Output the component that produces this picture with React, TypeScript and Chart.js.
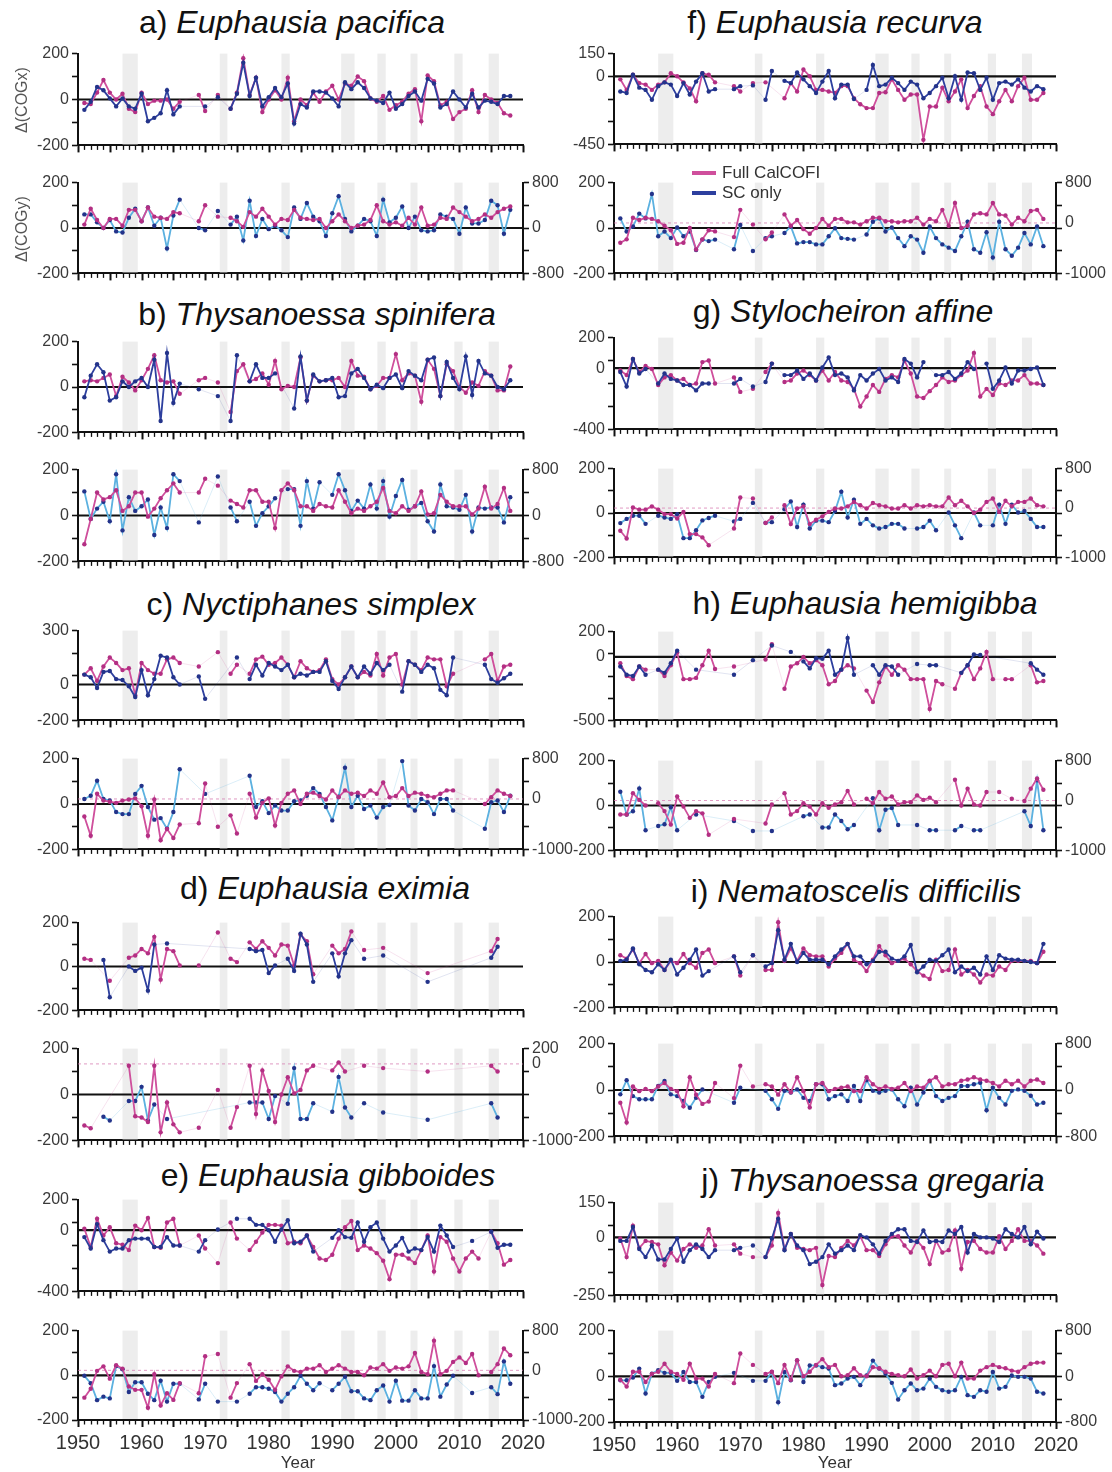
import React, { useEffect, useRef } from "react";
import { Chart, registerables } from "chart.js";
Chart.register(...registerables);

type P = [number, number][];

// ---------- data (year, value); COGy blue values are in right-axis units ----------
const aXM: P = [[1951,-15],[1952,-20],[1953,30],[1954,85],[1955,30],[1956,0],[1957,25],[1958,-40],[1959,-55],[1960,30],[1961,-20],[1962,-5],[1963,-5],[1964,0],[1965,-40],[1966,-10],[1969,20],[1970,-50],[1972,20],[1974,-40],[1975,30],[1976,180],[1977,20],[1978,95],[1979,-55],[1980,0],[1981,40],[1982,0],[1983,95],[1984,-95],[1985,0],[1986,-25],[1987,30],[1988,-10],[1989,35],[1990,60],[1991,0],[1992,70],[1993,60],[1994,100],[1995,80],[1996,5],[1997,-10],[1998,15],[1999,-45],[2000,-25],[2001,-10],[2002,25],[2003,45],[2004,-95],[2005,105],[2006,80],[2007,-25],[2008,-10],[2009,-85],[2010,-55],[2011,-40],[2012,40],[2013,-55],[2014,20],[2015,0],[2016,-15],[2017,-60],[2018,-70]];
const aXB: P = [[1951,-45],[1952,-10],[1953,55],[1954,40],[1955,5],[1956,-30],[1957,5],[1958,-30],[1959,-40],[1960,25],[1961,-95],[1962,-80],[1963,-60],[1964,40],[1965,-65],[1966,-30],[1970,-30],[1972,10],[1974,-40],[1975,25],[1976,160],[1977,15],[1978,95],[1979,-30],[1980,10],[1981,50],[1982,10],[1983,70],[1984,-105],[1985,-20],[1986,-35],[1987,35],[1988,35],[1989,30],[1990,5],[1991,-30],[1992,75],[1993,45],[1994,75],[1995,50],[1996,5],[1997,-5],[1998,-15],[1999,30],[2000,-40],[2001,-20],[2002,15],[2003,35],[2004,-5],[2005,90],[2006,70],[2007,-35],[2008,-20],[2009,35],[2010,0],[2011,-35],[2012,25],[2013,-35],[2014,-5],[2015,-10],[2016,-20],[2017,15],[2018,15]];
const aYM: P = [[1951,15],[1952,85],[1953,35],[1954,0],[1955,40],[1956,40],[1957,10],[1958,80],[1959,80],[1960,30],[1961,90],[1962,50],[1963,45],[1964,40],[1965,70],[1966,65],[1969,30],[1970,100],[1972,50],[1974,45],[1975,30],[1976,5],[1977,70],[1978,50],[1979,85],[1980,50],[1981,15],[1982,40],[1983,35],[1984,80],[1985,45],[1986,40],[1987,35],[1988,40],[1989,0],[1990,30],[1991,60],[1992,30],[1993,0],[1994,10],[1995,15],[1996,35],[1997,100],[1998,30],[1999,15],[2000,25],[2001,10],[2002,45],[2003,15],[2004,90],[2005,10],[2006,15],[2007,45],[2008,40],[2009,90],[2010,70],[2011,50],[2012,30],[2013,40],[2014,60],[2015,45],[2016,70],[2017,85],[2018,95]];
const aYB: P = [[1951,240],[1952,240],[1953,100],[1954,0],[1955,140],[1956,-60],[1957,-80],[1958,180],[1959,340],[1960,120],[1961,360],[1962,40],[1963,180],[1964,-360],[1965,220],[1966,500],[1969,0],[1970,-40],[1972,300],[1974,60],[1975,200],[1976,-220],[1977,480],[1978,-140],[1979,160],[1980,-20],[1981,40],[1982,-40],[1983,-160],[1984,360],[1985,160],[1986,440],[1987,200],[1988,120],[1989,-140],[1990,260],[1991,560],[1992,160],[1993,-60],[1994,40],[1995,160],[1996,120],[1997,-140],[1998,500],[1999,100],[2000,180],[2001,380],[2002,0],[2003,200],[2004,-40],[2005,-60],[2006,-40],[2007,240],[2008,200],[2009,160],[2010,-100],[2011,360],[2012,80],[2013,80],[2014,140],[2015,480],[2016,400],[2017,-100],[2018,320]];

const bXM: P = [[1951,25],[1952,30],[1953,25],[1954,40],[1955,55],[1956,-40],[1957,45],[1958,20],[1959,-15],[1960,30],[1961,80],[1962,140],[1963,30],[1964,20],[1965,25],[1966,-30],[1969,30],[1970,40],[1972,20],[1974,-110],[1975,70],[1976,100],[1977,25],[1978,35],[1979,60],[1980,10],[1981,115],[1982,-10],[1983,5],[1984,0],[1985,130],[1986,-60],[1987,50],[1988,25],[1989,30],[1990,30],[1991,40],[1992,0],[1993,115],[1994,50],[1995,45],[1996,-10],[1997,5],[1998,40],[1999,40],[2000,145],[2001,30],[2002,60],[2003,50],[2004,-65],[2005,120],[2006,80],[2007,-40],[2008,100],[2009,70],[2010,0],[2011,-25],[2012,20],[2013,5],[2014,70],[2015,50],[2016,-15],[2017,-15],[2018,90]];
const bXB: P = [[1951,-45],[1952,50],[1953,100],[1954,65],[1955,-60],[1956,-45],[1957,25],[1958,0],[1959,25],[1960,40],[1961,0],[1962,120],[1963,-150],[1964,150],[1965,-70],[1966,15],[1969,-10],[1972,-40],[1974,-150],[1975,140],[1977,25],[1978,100],[1979,40],[1980,40],[1981,60],[1984,-95],[1985,135],[1986,-60],[1987,55],[1988,25],[1989,30],[1990,40],[1991,-45],[1992,-40],[1993,60],[1994,80],[1995,40],[1996,-10],[1997,10],[1998,-5],[1999,40],[2000,55],[2001,-5],[2002,70],[2003,50],[2004,30],[2005,120],[2006,130],[2007,-40],[2008,110],[2009,40],[2010,-10],[2011,135],[2012,-35],[2013,115],[2014,60],[2015,50],[2016,0],[2017,-10],[2018,30]];
const bYM: P = [[1951,-125],[1952,-15],[1953,100],[1954,70],[1955,80],[1956,110],[1957,20],[1958,40],[1959,100],[1960,100],[1961,-5],[1962,30],[1963,75],[1964,110],[1965,140],[1966,100],[1969,100],[1970,160],[1972,130],[1974,65],[1975,50],[1976,35],[1977,110],[1978,110],[1979,60],[1980,60],[1981,-55],[1982,110],[1983,140],[1984,110],[1985,40],[1986,40],[1987,20],[1988,50],[1989,40],[1990,35],[1991,110],[1992,60],[1993,10],[1994,30],[1995,20],[1996,40],[1997,60],[1998,120],[1999,20],[2000,10],[2001,40],[2002,20],[2003,40],[2004,105],[2005,5],[2006,10],[2007,90],[2008,60],[2009,40],[2010,40],[2011,40],[2012,5],[2013,30],[2014,125],[2015,30],[2016,50],[2017,120],[2018,20]];
const bYB: P = [[1951,420],[1952,-60],[1953,120],[1954,240],[1955,-100],[1956,720],[1957,-260],[1958,320],[1959,80],[1960,160],[1961,280],[1962,-340],[1963,140],[1964,-220],[1965,720],[1966,600],[1969,-120],[1972,680],[1974,140],[1975,-100],[1977,240],[1978,-180],[1979,40],[1980,160],[1981,300],[1983,460],[1984,460],[1985,-180],[1986,600],[1987,120],[1988,580],[1990,360],[1991,720],[1992,440],[1993,80],[1994,260],[1995,120],[1996,540],[1997,120],[1998,600],[1999,-20],[2000,340],[2001,620],[2002,100],[2003,160],[2004,220],[2005,-100],[2006,-280],[2007,540],[2008,160],[2009,140],[2010,100],[2011,360],[2012,-280],[2013,140],[2014,120],[2015,140],[2016,140],[2017,-120],[2018,320]];

const cXM: P = [[1951,55],[1952,90],[1953,20],[1954,100],[1955,150],[1956,120],[1957,80],[1958,90],[1959,-60],[1960,120],[1961,80],[1962,60],[1963,60],[1964,140],[1965,150],[1966,120],[1969,100],[1972,180],[1974,60],[1975,110],[1977,60],[1978,140],[1979,155],[1980,110],[1981,120],[1982,150],[1983,110],[1984,40],[1985,130],[1986,90],[1987,70],[1988,80],[1989,140],[1990,30],[1991,0],[1992,40],[1993,100],[1994,40],[1995,70],[1996,50],[1997,170],[1998,50],[1999,150],[2000,170],[2001,0],[2002,130],[2003,110],[2004,80],[2005,150],[2006,140],[2007,140],[2008,-10],[2009,60],[2014,140],[2015,170],[2016,20],[2017,100],[2018,110]];
const cXB: P = [[1951,55],[1952,40],[1953,-20],[1954,70],[1955,75],[1956,30],[1957,25],[1958,-10],[1959,-70],[1960,80],[1961,-60],[1962,30],[1963,160],[1964,150],[1965,40],[1966,0],[1969,45],[1970,-80],[1975,150],[1977,30],[1978,110],[1979,50],[1980,120],[1981,100],[1982,80],[1983,110],[1984,40],[1985,60],[1986,50],[1987,70],[1988,70],[1989,130],[1990,20],[1991,-25],[1992,40],[1993,100],[1994,40],[1995,100],[1996,60],[1997,120],[1998,80],[1999,110],[2001,-40],[2002,130],[2003,110],[2004,70],[2005,110],[2006,90],[2007,-30],[2008,-60],[2009,150],[2014,110],[2015,30],[2016,10],[2017,35],[2018,60]];
const cYM: P = [[1951,-55],[1952,-140],[1953,45],[1954,15],[1955,10],[1956,5],[1957,15],[1958,20],[1959,25],[1960,-10],[1961,-140],[1962,20],[1963,-160],[1964,-110],[1965,-150],[1966,-90],[1969,-85],[1970,90],[1972,-100],[1974,-50],[1975,-130],[1977,45],[1978,-60],[1979,5],[1980,25],[1981,-95],[1982,5],[1983,45],[1984,60],[1985,0],[1986,45],[1987,50],[1988,35],[1989,20],[1990,60],[1991,30],[1992,60],[1993,45],[1994,50],[1995,35],[1996,60],[1997,45],[1998,95],[1999,30],[2000,35],[2001,70],[2002,35],[2003,50],[2004,45],[2005,35],[2006,30],[2007,45],[2008,60],[2009,60],[2014,0],[2015,30],[2016,60],[2017,45],[2018,35]];
const cYB: P = [[1951,0],[1952,65],[1953,360],[1954,0],[1955,-30],[1956,-260],[1957,-300],[1958,-300],[1959,100],[1960,260],[1961,-160],[1962,-410],[1963,-380],[1964,-590],[1965,-260],[1966,590],[1970,100],[1977,460],[1978,-160],[1979,-45],[1980,-280],[1981,-130],[1982,-230],[1983,-230],[1984,-45],[1985,-30],[1986,65],[1987,215],[1988,100],[1989,-160],[1990,-425],[1991,45],[1992,620],[1993,-160],[1994,65],[1995,-200],[1996,-130],[1997,-370],[1998,-160],[1999,-120],[2001,750],[2002,-130],[2003,-230],[2004,0],[2005,-65],[2006,-300],[2007,0],[2008,0],[2009,-230],[2014,-590],[2015,-65],[2016,-30],[2017,-260],[2018,65]];

const dXM: P = [[1951,35],[1952,30],[1955,-65],[1958,40],[1959,50],[1960,80],[1961,60],[1962,135],[1963,-60],[1964,80],[1965,70],[1966,5],[1969,5],[1972,155],[1974,35],[1975,20],[1977,110],[1978,80],[1979,115],[1980,85],[1981,50],[1982,100],[1983,95],[1984,5],[1985,145],[1986,115],[1987,-35],[1990,95],[1991,60],[1992,80],[1993,160],[1995,75],[1998,85],[2005,-30],[2015,70],[2016,125]];
const dXB: P = [[1954,30],[1955,-140],[1958,0],[1959,-20],[1960,-5],[1961,-110],[1962,100],[1964,105],[1977,80],[1978,70],[1979,75],[1980,-30],[1981,5],[1983,35],[1984,-20],[1985,150],[1986,100],[1987,-70],[1990,60],[1991,-45],[1992,60],[1993,120],[1995,35],[1998,50],[2005,-70],[2015,40],[2016,90]];
const dYM: P = [[1951,-135],[1952,-147],[1958,125],[1959,-95],[1960,-100],[1961,-120],[1962,125],[1963,-165],[1964,-35],[1965,-130],[1966,-165],[1969,-145],[1972,20],[1974,-145],[1975,-55],[1977,125],[1978,-85],[1979,105],[1980,15],[1981,-120],[1982,0],[1983,75],[1984,5],[1985,20],[1986,105],[1987,125],[1990,105],[1991,140],[1992,100],[1995,125],[1998,115],[2005,100],[2015,125],[2016,100]];
const dYB: P = [[1954,-690],[1955,-740],[1958,-485],[1959,-485],[1960,-300],[1961,-740],[1962,-530],[1964,-720],[1977,-505],[1978,-505],[1979,-505],[1980,-720],[1981,-420],[1983,-520],[1984,-55],[1985,-720],[1986,-720],[1987,-515],[1990,-625],[1991,-170],[1992,-570],[1993,-700],[1995,-515],[1998,-635],[2005,-730],[2015,-515],[2016,-700]];

const eXM: P = [[1951,10],[1952,-110],[1953,75],[1954,-35],[1955,20],[1956,-85],[1957,-95],[1958,-130],[1959,30],[1960,0],[1961,80],[1962,-110],[1963,-115],[1964,50],[1965,75],[1966,-100],[1969,-35],[1970,-120],[1972,-215],[1974,50],[1975,-55],[1977,-130],[1978,-75],[1979,-15],[1980,35],[1981,35],[1982,30],[1983,-85],[1984,-75],[1985,-85],[1986,-35],[1987,-110],[1988,-185],[1989,-195],[1990,-160],[1991,-55],[1992,20],[1993,60],[1994,-130],[1995,-100],[1996,-120],[1997,-150],[1998,-200],[1999,-320],[2000,-160],[2001,-160],[2002,-185],[2003,-215],[2004,-130],[2005,-35],[2006,-270],[2007,-45],[2008,-75],[2009,-185],[2010,-270],[2011,-185],[2012,-140],[2013,-185],[2015,-10],[2016,-85],[2017,-225],[2018,-195]];
const eXB: P = [[1951,-45],[1952,-120],[1953,40],[1954,-65],[1955,-140],[1956,-120],[1957,-120],[1958,-65],[1959,-55],[1960,-55],[1961,-55],[1962,-110],[1963,-110],[1964,-45],[1965,-100],[1966,-100],[1969,-140],[1970,-65],[1972,5],[1975,75],[1977,75],[1978,35],[1979,35],[1980,0],[1981,-75],[1982,5],[1983,65],[1984,-85],[1985,-75],[1986,-35],[1987,-140],[1990,-50],[1991,0],[1992,-45],[1993,-50],[1994,50],[1995,-75],[1996,20],[1997,50],[1998,-55],[1999,-140],[2000,-100],[2001,-50],[2002,-140],[2003,-120],[2004,-130],[2005,-45],[2006,-140],[2007,30],[2008,-35],[2009,-110],[2012,-70],[2015,-10],[2016,-115],[2017,-95],[2018,-95]];
const eYM: P = [[1951,-100],[1952,-60],[1953,20],[1954,40],[1955,-15],[1956,45],[1957,30],[1958,-50],[1959,-65],[1960,-65],[1961,-145],[1962,5],[1963,-135],[1964,-80],[1965,-110],[1966,-35],[1969,-80],[1970,85],[1972,95],[1974,-100],[1975,-35],[1977,50],[1978,-25],[1979,5],[1980,-20],[1981,-65],[1982,-5],[1983,40],[1984,20],[1985,15],[1986,30],[1987,30],[1988,45],[1989,15],[1990,30],[1991,45],[1992,30],[1993,15],[1994,15],[1995,0],[1996,35],[1997,30],[1998,50],[1999,20],[2000,35],[2001,30],[2002,40],[2003,100],[2004,15],[2005,5],[2006,155],[2007,5],[2008,20],[2009,60],[2010,80],[2011,55],[2012,95],[2013,0],[2015,15],[2016,50],[2017,120],[2018,90]];
const eYB: P = [[1951,-110],[1952,-260],[1953,-600],[1954,-530],[1955,-565],[1956,85],[1957,20],[1958,-435],[1959,-240],[1960,-240],[1961,-470],[1962,-600],[1963,-210],[1964,-630],[1965,-270],[1966,-270],[1969,-585],[1970,-270],[1972,-630],[1975,-630],[1977,-470],[1978,-340],[1979,-340],[1980,-370],[1981,-435],[1982,-630],[1983,-470],[1984,-340],[1985,-110],[1986,-270],[1987,-400],[1988,-260],[1990,-400],[1991,-270],[1992,-130],[1993,-420],[1994,-420],[1995,-565],[1996,-600],[1997,-400],[1998,-305],[1999,-630],[2000,-210],[2001,-610],[2002,-610],[2003,-400],[2004,-565],[2005,-565],[2006,85],[2007,-530],[2008,-285],[2009,-110],[2012,-455],[2015,-340],[2016,-480],[2017,180],[2018,-270]];

const fXM: P = [[1951,-20],[1952,-90],[1953,10],[1954,-45],[1955,-55],[1956,-90],[1957,-55],[1958,-40],[1959,20],[1960,0],[1961,-40],[1962,-80],[1963,-165],[1964,20],[1965,10],[1966,-40],[1969,-65],[1970,-100],[1972,-45],[1974,-40],[1977,-145],[1978,-45],[1979,-100],[1980,45],[1981,0],[1982,-90],[1983,-90],[1984,-100],[1985,-110],[1986,-65],[1987,-65],[1988,-145],[1989,-185],[1990,-210],[1991,-210],[1992,-110],[1993,-105],[1994,-20],[1995,-90],[1996,-155],[1997,-120],[1998,-120],[1999,-420],[2000,-200],[2001,-200],[2002,-75],[2003,-165],[2004,-100],[2005,-20],[2006,-210],[2007,-130],[2008,-65],[2009,-200],[2010,-250],[2011,-165],[2012,-90],[2013,-165],[2014,-65],[2015,-10],[2016,-155],[2017,-155],[2018,-110]];
const fXB: P = [[1951,-100],[1952,-110],[1953,10],[1954,-75],[1955,-90],[1956,-155],[1957,-65],[1958,-40],[1959,-55],[1960,-130],[1961,-45],[1962,-120],[1963,-35],[1964,20],[1965,-100],[1966,-85],[1969,-85],[1970,-65],[1972,-60],[1974,-155],[1975,35],[1977,-30],[1978,-45],[1979,25],[1980,-20],[1981,-65],[1982,-110],[1983,-35],[1984,35],[1985,-145],[1986,-55],[1987,-55],[1988,-150],[1990,-90],[1991,75],[1992,-65],[1993,-55],[1994,-10],[1995,-45],[1996,-90],[1997,-35],[1998,-55],[1999,-145],[2000,-110],[2001,-65],[2002,-10],[2003,-145],[2004,0],[2005,-155],[2006,25],[2007,20],[2008,-90],[2009,-10],[2010,-155],[2011,-45],[2012,-35],[2013,-55],[2014,-20],[2015,-75],[2016,-100],[2017,-65],[2018,-85]];
const fYM: P = [[1951,-65],[1952,-50],[1953,45],[1954,35],[1955,45],[1956,40],[1957,30],[1958,10],[1959,-10],[1960,-70],[1961,-65],[1962,0],[1963,-95],[1964,-50],[1965,-10],[1966,-15],[1969,-40],[1970,80],[1972,15],[1974,-50],[1975,-20],[1977,60],[1978,10],[1979,35],[1980,-5],[1981,-25],[1982,0],[1983,40],[1984,10],[1985,40],[1986,40],[1987,25],[1988,25],[1989,15],[1990,30],[1991,45],[1992,45],[1993,30],[1994,30],[1995,25],[1996,30],[1997,30],[1998,45],[1999,15],[2000,40],[2001,30],[2002,80],[2003,10],[2004,110],[2005,0],[2006,10],[2007,60],[2008,65],[2009,60],[2010,110],[2011,60],[2012,55],[2013,15],[2014,45],[2015,30],[2016,75],[2017,80],[2018,40]];
const fYB: P = [[1951,90],[1952,-170],[1953,-70],[1954,185],[1955,90],[1956,575],[1957,-265],[1958,-170],[1959,-300],[1960,-90],[1961,-265],[1962,-170],[1963,-535],[1964,-330],[1965,-360],[1966,-330],[1969,-520],[1970,-40],[1972,-555],[1974,-300],[1975,-265],[1977,-200],[1978,-70],[1979,-405],[1980,-380],[1981,-380],[1982,-425],[1983,-425],[1984,-265],[1985,-105],[1986,-300],[1987,-315],[1988,-330],[1990,-230],[1991,25],[1992,90],[1993,-170],[1994,-90],[1995,-300],[1996,-460],[1997,-265],[1998,-330],[1999,-590],[2000,-70],[2001,-300],[2002,-425],[2003,-490],[2004,-555],[2005,-265],[2006,25],[2007,-520],[2008,-590],[2009,-185],[2010,-685],[2011,25],[2012,-520],[2013,-650],[2014,-490],[2015,-200],[2016,-425],[2017,-70],[2018,-460]];

const gXM: P = [[1951,-15],[1952,-45],[1953,60],[1954,-25],[1955,15],[1956,-5],[1957,-110],[1958,-60],[1959,-45],[1960,-80],[1961,-70],[1962,-110],[1963,-100],[1964,40],[1965,50],[1966,-100],[1969,-60],[1970,-155],[1972,-135],[1974,-25],[1975,30],[1977,-90],[1978,-80],[1979,-35],[1980,-15],[1981,-45],[1982,-80],[1983,-15],[1984,-80],[1985,-25],[1986,-80],[1987,-90],[1988,-135],[1989,-250],[1990,-185],[1991,-110],[1992,-155],[1993,-70],[1994,-45],[1995,-60],[1996,50],[1997,-35],[1998,-185],[1999,-195],[2000,-150],[2001,-110],[2002,-60],[2003,-90],[2004,-80],[2005,-45],[2006,-15],[2007,100],[2008,-185],[2009,-135],[2010,-175],[2011,-100],[2012,-110],[2013,-80],[2014,-80],[2015,-45],[2016,-100],[2017,-100],[2018,-110]];
const gXB: P = [[1951,-25],[1952,-120],[1953,60],[1954,-35],[1955,-5],[1957,-100],[1958,-35],[1959,-70],[1960,-80],[1961,-110],[1962,-110],[1963,-145],[1964,-100],[1965,-100],[1969,-100],[1970,-70],[1972,-120],[1974,-90],[1975,30],[1977,-45],[1978,-45],[1979,-15],[1980,-70],[1981,-35],[1982,-80],[1983,5],[1984,70],[1985,-45],[1986,-35],[1987,-60],[1988,-145],[1989,-45],[1990,-80],[1991,-35],[1992,-5],[1993,-80],[1994,-60],[1995,-90],[1996,60],[1997,30],[1998,-60],[1999,40],[2001,-45],[2002,-45],[2003,-25],[2004,-70],[2005,-35],[2006,40],[2007,-5],[2009,30],[2010,-135],[2011,-80],[2012,5],[2013,-100],[2014,-15],[2015,-15],[2016,-5],[2017,5],[2018,-110]];
const gYM: P = [[1951,-80],[1952,-115],[1953,25],[1954,15],[1955,15],[1956,30],[1957,15],[1958,-5],[1959,-5],[1960,-25],[1961,5],[1962,-95],[1963,-95],[1964,-110],[1965,-145],[1969,-70],[1970,70],[1972,65],[1974,-45],[1975,-20],[1977,35],[1978,-50],[1979,20],[1980,30],[1981,-50],[1982,-30],[1983,-15],[1984,5],[1985,20],[1986,20],[1987,30],[1988,50],[1989,35],[1990,20],[1991,45],[1992,35],[1993,30],[1994,20],[1995,20],[1996,35],[1997,20],[1998,35],[1999,30],[2000,35],[2001,30],[2002,30],[2003,70],[2004,35],[2005,55],[2006,30],[2007,0],[2008,15],[2009,50],[2010,65],[2011,5],[2012,55],[2013,30],[2014,50],[2015,50],[2016,65],[2017,35],[2018,30]];
const gYB: P = [[1951,-305],[1952,-220],[1953,-155],[1954,-155],[1955,-320],[1957,-155],[1958,-190],[1959,-220],[1960,-125],[1961,-610],[1962,-610],[1963,-450],[1964,-250],[1965,-200],[1966,-155],[1969,-270],[1970,-220],[1972,105],[1974,-300],[1975,-285],[1977,-25],[1978,135],[1979,-385],[1980,70],[1981,-415],[1982,-255],[1983,-255],[1984,-285],[1985,-60],[1986,330],[1987,-190],[1988,170],[1989,-320],[1990,-220],[1991,-350],[1992,-415],[1993,-385],[1994,-320],[1995,-320],[1996,-415],[1998,-415],[1999,-385],[2000,-255],[2001,-450],[2003,-90],[2004,-350],[2005,-610],[2007,-90],[2008,-350],[2010,-350],[2011,70],[2012,-320],[2013,70],[2014,-90],[2015,-60],[2016,-220],[2017,-385],[2018,-385]];

const hXM: P = [[1951,-50],[1952,-150],[1953,-175],[1954,-75],[1955,-100],[1957,-100],[1958,-150],[1959,-65],[1960,35],[1961,-175],[1962,-175],[1963,-165],[1964,-65],[1965,50],[1966,-95],[1969,-75],[1974,-20],[1975,100],[1977,-250],[1978,-75],[1979,-50],[1980,0],[1981,-50],[1982,-25],[1983,-65],[1984,-215],[1985,-190],[1986,-100],[1987,-65],[1988,-90],[1990,-265],[1991,-355],[1992,-200],[1993,-75],[1994,-140],[1995,-65],[1996,-100],[1997,-175],[1998,-175],[1999,-175],[2000,-410],[2001,-190],[2002,-215],[2004,-250],[2005,-125],[2006,-65],[2007,-175],[2008,-90],[2009,40],[2010,-175],[2012,-175],[2013,-175],[2016,-65],[2017,-200],[2018,-190]];
const hXB: P = [[1951,-75],[1952,-140],[1953,-150],[1954,-75],[1955,-140],[1957,-100],[1958,-125],[1959,-50],[1960,50],[1963,-100],[1969,-140],[1972,-25],[1975,90],[1978,40],[1980,-35],[1981,-90],[1982,-10],[1983,-15],[1984,50],[1985,-140],[1986,-100],[1987,150],[1988,-140],[1991,-65],[1992,-140],[1993,-65],[1994,-75],[1995,-140],[1998,-55],[2000,-65],[2001,-65],[2005,-125],[2006,-65],[2007,20],[2008,15],[2016,-50],[2017,-100],[2018,-140]];
const hYM: P = [[1951,-40],[1952,-40],[1953,55],[1954,25],[1955,0],[1957,10],[1958,-25],[1959,-85],[1960,40],[1961,-5],[1962,-55],[1963,-25],[1964,-35],[1965,-130],[1969,-60],[1974,-80],[1975,5],[1977,55],[1978,-40],[1979,-25],[1980,10],[1981,-5],[1982,-40],[1983,10],[1984,-10],[1985,5],[1986,15],[1987,65],[1988,5],[1990,30],[1991,10],[1992,60],[1993,30],[1994,40],[1995,5],[1996,15],[1997,15],[1998,45],[1999,25],[2000,35],[2001,15],[2004,115],[2005,0],[2006,75],[2007,5],[2008,0],[2009,60],[2011,60],[2013,30],[2015,20],[2016,75],[2017,120],[2018,70]];
const hYB: P = [[1951,175],[1952,-280],[1953,-215],[1954,240],[1955,-595],[1957,-510],[1958,-475],[1959,-135],[1960,-595],[1963,-280],[1969,-410],[1972,-610],[1975,-610],[1980,-315],[1981,-280],[1983,-540],[1984,-540],[1985,-280],[1986,-410],[1987,-575],[1988,-490],[1991,45],[1992,-595],[1993,-185],[1994,-150],[1995,-490],[1998,-490],[2000,-595],[2001,-595],[2004,-595],[2005,-510],[2007,-595],[2008,-595],[2015,-215],[2016,-510],[2017,405],[2018,-595]];

const iXM: P = [[1951,30],[1952,15],[1953,55],[1954,-5],[1955,35],[1956,-5],[1957,5],[1958,-35],[1959,5],[1960,-5],[1961,35],[1962,-5],[1963,-25],[1964,40],[1965,55],[1966,-5],[1969,25],[1970,-60],[1972,30],[1974,-35],[1975,-35],[1976,175],[1977,5],[1978,60],[1979,5],[1980,60],[1981,30],[1982,25],[1983,25],[1984,-20],[1985,15],[1986,40],[1987,80],[1988,10],[1989,-5],[1990,-40],[1991,10],[1992,70],[1993,30],[1994,-5],[1995,5],[1996,15],[1997,-10],[1998,-40],[1999,-60],[2000,-75],[2001,10],[2002,-40],[2003,-35],[2004,55],[2005,-55],[2006,-35],[2007,-55],[2008,-90],[2009,-55],[2010,-60],[2011,-20],[2012,-35],[2013,5],[2014,5],[2015,5],[2016,5],[2017,-5],[2018,45]];
const iXB: P = [[1951,5],[1952,10],[1953,60],[1954,-10],[1955,-35],[1956,-45],[1957,-10],[1958,-35],[1959,10],[1960,-55],[1961,-25],[1962,10],[1963,55],[1964,-60],[1965,-40],[1969,25],[1970,-45],[1972,30],[1974,-20],[1975,-5],[1976,140],[1977,10],[1978,80],[1979,0],[1980,40],[1981,10],[1982,10],[1983,10],[1984,-10],[1985,25],[1986,55],[1987,80],[1988,25],[1989,25],[1990,-10],[1991,5],[1992,45],[1993,45],[1994,15],[1995,5],[1996,25],[1997,75],[1998,-45],[1999,-20],[2000,10],[2001,5],[2002,30],[2003,55],[2004,-45],[2005,-20],[2006,-40],[2007,-25],[2008,-55],[2009,25],[2010,-35],[2011,30],[2012,15],[2013,10],[2014,10],[2015,5],[2016,0],[2017,-5],[2018,80]];
const iYM: P = [[1951,-55],[1952,-140],[1953,15],[1954,-5],[1955,5],[1956,-5],[1957,15],[1958,30],[1959,5],[1960,-5],[1961,-70],[1962,55],[1963,-20],[1964,-60],[1965,-50],[1966,30],[1969,-35],[1970,105],[1972,15],[1974,25],[1975,15],[1976,-20],[1977,25],[1978,-10],[1979,55],[1980,-5],[1981,-75],[1982,25],[1983,30],[1984,-5],[1985,5],[1986,10],[1987,15],[1988,-5],[1989,-5],[1990,55],[1991,25],[1992,5],[1993,15],[1994,5],[1995,10],[1996,30],[1997,-5],[1998,15],[1999,10],[2000,40],[2001,55],[2002,15],[2003,25],[2004,25],[2005,40],[2006,45],[2007,55],[2008,45],[2009,40],[2010,30],[2011,15],[2012,40],[2013,25],[2014,40],[2015,15],[2016,40],[2017,45],[2018,30]];
const iYB: P = [[1951,-75],[1952,170],[1953,-105],[1954,-160],[1955,-160],[1956,-160],[1957,70],[1958,155],[1959,-75],[1960,-105],[1961,-190],[1962,-305],[1963,-135],[1964,10],[1969,-220],[1970,40],[1974,-15],[1975,-160],[1976,-325],[1977,-15],[1978,-45],[1979,10],[1980,-135],[1981,-190],[1982,100],[1983,100],[1984,-160],[1985,-105],[1986,-75],[1987,-190],[1988,70],[1989,-190],[1990,170],[1991,-15],[1992,-45],[1993,-15],[1994,10],[1995,-160],[1996,-280],[1997,40],[1998,-250],[1999,-45],[2000,155],[2001,-105],[2002,-190],[2003,-135],[2004,-105],[2005,70],[2006,70],[2007,100],[2008,125],[2009,-350],[2010,40],[2011,-135],[2012,-250],[2013,-15],[2014,10],[2015,-15],[2016,-100],[2017,-250],[2018,-220]];

const jXM: P = [[1951,-5],[1952,-85],[1953,50],[1954,-45],[1955,-15],[1956,-20],[1957,-30],[1958,-120],[1959,-65],[1960,-100],[1961,-50],[1962,-30],[1963,-45],[1964,-35],[1965,35],[1966,-35],[1969,-30],[1970,-70],[1972,-85],[1974,-85],[1975,-35],[1976,105],[1977,-50],[1978,15],[1979,-45],[1980,-50],[1981,-55],[1982,-45],[1983,-205],[1984,-80],[1985,-85],[1986,-45],[1987,-15],[1988,-35],[1989,5],[1990,-55],[1991,-55],[1992,-80],[1993,-30],[1994,5],[1995,5],[1996,-35],[1997,-65],[1998,-15],[1999,-45],[2000,-115],[2001,-15],[2002,-65],[2003,-55],[2004,30],[2005,-135],[2006,-20],[2007,-15],[2008,-50],[2009,-65],[2010,-65],[2011,5],[2012,-50],[2013,-15],[2014,35],[2015,-15],[2016,-15],[2017,-35],[2018,-70]];
const jXB: P = [[1951,-15],[1952,-15],[1953,45],[1954,-50],[1955,-85],[1956,-35],[1957,-95],[1958,-95],[1959,-50],[1960,-5],[1961,-105],[1962,-55],[1963,-30],[1964,-50],[1965,-85],[1966,-55],[1969,-55],[1970,-45],[1972,-35],[1974,-85],[1975,-5],[1976,80],[1977,-55],[1978,15],[1979,-35],[1980,-55],[1981,-115],[1982,-105],[1983,-85],[1984,-30],[1985,-70],[1986,-55],[1987,-35],[1988,-55],[1989,10],[1990,0],[1991,-30],[1992,-70],[1993,-15],[1994,15],[1995,35],[1996,35],[1997,-15],[1998,-20],[1999,30],[2000,-20],[2001,-15],[2002,-20],[2003,30],[2004,15],[2005,45],[2006,-65],[2007,15],[2008,0],[2009,0],[2010,-5],[2011,-20],[2012,35],[2013,15],[2014,0],[2015,45],[2016,-30],[2017,25],[2018,-5]];
const jYM: P = [[1951,-15],[1952,-45],[1953,20],[1954,20],[1955,-25],[1956,10],[1957,20],[1958,55],[1959,20],[1960,10],[1961,-15],[1962,55],[1963,-10],[1964,-10],[1965,-45],[1966,10],[1969,-30],[1970,100],[1972,50],[1974,10],[1975,20],[1976,-30],[1977,50],[1978,-15],[1979,70],[1980,0],[1981,20],[1982,50],[1983,75],[1984,40],[1985,50],[1986,0],[1987,5],[1988,35],[1989,5],[1990,0],[1991,40],[1992,35],[1993,20],[1994,10],[1995,5],[1996,0],[1997,30],[1998,-10],[1999,5],[2000,25],[2001,0],[2002,50],[2003,55],[2004,0],[2005,60],[2006,-10],[2007,-10],[2008,25],[2009,40],[2010,50],[2011,40],[2012,35],[2013,25],[2014,20],[2015,40],[2016,55],[2017,60],[2018,60]];
const jYB: P = [[1951,-70],[1952,-70],[1953,-20],[1954,135],[1955,-300],[1956,45],[1957,105],[1958,60],[1959,60],[1960,-80],[1961,75],[1962,-100],[1963,-100],[1964,-360],[1965,-100],[1966,-10],[1969,60],[1972,-80],[1974,-80],[1975,75],[1976,-455],[1977,75],[1978,-70],[1979,275],[1980,-100],[1981,190],[1982,190],[1983,160],[1984,135],[1985,-155],[1986,-125],[1987,-40],[1988,-10],[1989,-155],[1990,15],[1991,275],[1992,135],[1993,45],[1994,-115],[1995,-405],[1996,-245],[1997,-125],[1998,-245],[1999,-215],[2000,-40],[2001,-185],[2002,-245],[2003,-270],[2004,-245],[2005,-10],[2006,-330],[2007,-360],[2008,-245],[2009,-270],[2010,75],[2011,-215],[2012,-185],[2013,15],[2014,-10],[2015,-10],[2016,-40],[2017,-270],[2018,-300]];

// shaded (El Niño) periods, in years
const BANDS: [number, number][] = [[1957.0,1959.4],[1972.3,1973.5],[1982.0,1983.3],[1991.4,1993.5],[1997.1,1998.4],[2002.3,2003.4],[2009.2,2010.5],[2014.6,2016.2]];

// ---------- styling / layout ----------
const MAG = "#cf4f9c";
const MAG_PT = "#b32f83";
const BLUE = "#2d3f9e";
const BLUE_PT = "#23338a";
const LBLUE = "#5cb1e0";
const FONT = "'Liberation Sans', Arial, Helvetica, sans-serif";
const PADT = 12;
const SIDE = 60;

const COL_L = { x0: 78, x1: 523 };
const COL_R = { x0: 614, x1: 1056 };

interface PanelSpec {
  letter: string; species: string; col: { x0: number; x1: number };
  tx: number; ty: number;
  xTop: number; xBot: number; yTop: number; yBot: number;
  xRange: [number, number]; y2: [number, number];
  xm: P; xb: P; ym: P; yb: P; bottom: boolean;
}

// tx = horizontal centre of the panel title
const PANELS: PanelSpec[] = [
  { letter: "a)", species: "Euphausia pacifica", col: COL_L, tx: 292, ty: 22, xTop: 53, xBot: 146, yTop: 182, yBot: 274, xRange: [-200, 200], y2: [-800, 800], xm: aXM, xb: aXB, ym: aYM, yb: aYB, bottom: false },
  { letter: "b)", species: "Thysanoessa spinifera", col: COL_L, tx: 317, ty: 314, xTop: 341, xBot: 433, yTop: 469, yBot: 562, xRange: [-200, 200], y2: [-800, 800], xm: bXM, xb: bXB, ym: bYM, yb: bYB, bottom: false },
  { letter: "c)", species: "Nyctiphanes simplex", col: COL_L, tx: 311, ty: 604, xTop: 630, xBot: 721, yTop: 758, yBot: 850, xRange: [-200, 300], y2: [-1000, 800], xm: cXM, xb: cXB, ym: cYM, yb: cYB, bottom: false },
  { letter: "d)", species: "Euphausia eximia", col: COL_L, tx: 325, ty: 888, xTop: 922, xBot: 1011, yTop: 1048, yBot: 1141, xRange: [-200, 200], y2: [-1000, 200], xm: dXM, xb: dXB, ym: dYM, yb: dYB, bottom: false },
  { letter: "e)", species: "Euphausia gibboides", col: COL_L, tx: 328, ty: 1175, xTop: 1199, xBot: 1292, yTop: 1330, yBot: 1420, xRange: [-400, 200], y2: [-1000, 800], xm: eXM, xb: eXB, ym: eYM, yb: eYB, bottom: true },
  { letter: "f)", species: "Euphausia recurva", col: COL_R, tx: 835, ty: 22, xTop: 53, xBot: 145, yTop: 182, yBot: 274, xRange: [-450, 150], y2: [-1000, 800], xm: fXM, xb: fXB, ym: fYM, yb: fYB, bottom: false },
  { letter: "g)", species: "Stylocheiron affine", col: COL_R, tx: 843, ty: 311, xTop: 337, xBot: 430, yTop: 468, yBot: 558, xRange: [-400, 200], y2: [-1000, 800], xm: gXM, xb: gXB, ym: gYM, yb: gYB, bottom: false },
  { letter: "h)", species: "Euphausia hemigibba", col: COL_R, tx: 865, ty: 603, xTop: 631, xBot: 721, yTop: 760, yBot: 851, xRange: [-500, 200], y2: [-1000, 800], xm: hXM, xb: hXB, ym: hYM, yb: hYB, bottom: false },
  { letter: "i)", species: "Nematoscelis difficilis", col: COL_R, tx: 856, ty: 891, xTop: 916, xBot: 1008, yTop: 1043, yBot: 1137, xRange: [-200, 200], y2: [-800, 800], xm: iXM, xb: iXB, ym: iYM, yb: iYB, bottom: false },
  { letter: "j)", species: "Thysanoessa gregaria", col: COL_R, tx: 873, ty: 1180, xTop: 1202, xBot: 1296, yTop: 1330, yBot: 1422, xRange: [-250, 150], y2: [-800, 800], xm: jXM, xb: jXB, ym: jYM, yb: jYB, bottom: true },
];

// ---------- helpers ----------
function gapped(p: P) {
  const out: { x: number; y: number | null }[] = [];
  for (let i = 0; i < p.length; i++) {
    if (i > 0 && p[i][0] - p[i - 1][0] > 1) out.push({ x: (p[i][0] + p[i - 1][0]) / 2, y: null });
    out.push({ x: p[i][0], y: p[i][1] });
  }
  return out;
}
function plain(p: P) {
  return p.map(([x, y]) => ({ x, y }));
}
function tickVals(min: number, max: number) {
  const arr: number[] = [];
  for (let i = 0; i <= 4; i++) arr.push(max - ((max - min) * i) / 4);
  return arr;
}

const bandsPlugin = {
  id: "bands",
  beforeDatasetsDraw(chart: any) {
    const { ctx, chartArea, scales } = chart;
    const x = scales.x;
    ctx.save();
    ctx.fillStyle = "#ededed";
    for (const [a, b] of BANDS) {
      const p0 = x.getPixelForValue(a);
      const p1 = x.getPixelForValue(b);
      ctx.fillRect(p0, chartArea.top, p1 - p0, chartArea.bottom - chartArea.top - 1);
    }
    if (scales.y2) {
      const yy = scales.y2.getPixelForValue(0);
      ctx.strokeStyle = "rgba(214,120,175,0.75)";
      ctx.lineWidth = 1;
      ctx.setLineDash([3, 3]);
      ctx.beginPath();
      ctx.moveTo(chartArea.left, yy);
      ctx.lineTo(chartArea.right, yy);
      ctx.stroke();
      ctx.setLineDash([]);
    }
    const y0 = scales.y.getPixelForValue(0);
    ctx.strokeStyle = "#111";
    ctx.lineWidth = 2.2;
    ctx.beginPath();
    ctx.moveTo(chartArea.left, y0);
    ctx.lineTo(chartArea.right, y0);
    ctx.stroke();
    ctx.restore();
  },
  afterDraw(chart: any) {
    const { ctx, chartArea, scales } = chart;
    const x = scales.x;
    ctx.save();
    ctx.strokeStyle = "#111";
    for (let yr = 1950; yr <= 2020; yr++) {
      const px = Math.round(x.getPixelForValue(yr)) + 0.5;
      const major = yr % 5 === 0;
      ctx.lineWidth = major ? 2 : 1.3;
      ctx.beginPath();
      ctx.moveTo(px, chartArea.bottom);
      ctx.lineTo(px, chartArea.bottom + (major ? 7 : 4.5));
      ctx.stroke();
    }
    ctx.restore();
  },
};

function yAxis(min: number, max: number, position: "left" | "right") {
  const vals = tickVals(min, max);
  const hasZero = vals.includes(0);
  return {
    type: "linear",
    position,
    min,
    max,
    afterBuildTicks: (s: any) => {
      const v = hasZero ? vals : [...vals, 0];
      s.ticks = v.map((value) => ({ value }));
    },
    afterFit: (s: any) => {
      s.width = SIDE;
    },
    ticks: {
      autoSkip: false,
      padding: 3,
      color: "#3a3a3a",
      font: { family: FONT, size: 16 },
      callback: (v: number) => (v === min || v === max || v === 0 ? String(v) : ""),
    },
    grid: {
      display: true,
      drawOnChartArea: false,
      drawTicks: true,
      tickLength: 6,
      tickWidth: 1.6,
      tickColor: (ctx: any) => (ctx.tick && ctx.tick.value === 0 && !hasZero ? "rgba(0,0,0,0)" : "#111"),
    },
    border: { display: true, color: "#111", width: 2 },
  };
}

interface SubProps {
  p: PanelSpec;
  which: "x" | "y";
}

function SubChart({ p, which }: SubProps) {
  const ref = useRef<HTMLCanvasElement | null>(null);
  const top = which === "x" ? p.xTop : p.yTop;
  const bot = which === "x" ? p.xBot : p.yBot;
  const showX = which === "y" && p.bottom;
  const xh = showX ? 42 : 12;
  const W = p.col.x1 - p.col.x0 + 2 * SIDE;
  const H = bot - top + PADT + xh;

  useEffect(() => {
    if (!ref.current) return;
    const isY = which === "y";
    const m = isY ? p.ym : p.xm;
    const b = isY ? p.yb : p.xb;
    const bAxis = isY ? "y2" : "y";
    const bLine = isY ? LBLUE : BLUE;
    const faintB = isY ? "rgba(92,177,224,0.28)" : "rgba(45,63,158,0.18)";
    const mMain = {
      data: gapped(m), yAxisID: "y", borderColor: MAG, borderWidth: 1.8,
      pointRadius: 2.2, pointBackgroundColor: MAG_PT, pointBorderWidth: 0, spanGaps: false,
    };
    const bMain = {
      data: gapped(b), yAxisID: bAxis, borderColor: bLine, borderWidth: 1.8,
      pointRadius: 2.2, pointBackgroundColor: BLUE_PT, pointBorderWidth: 0, spanGaps: false,
    };
    const mFaint = {
      data: plain(m), yAxisID: "y", borderColor: "rgba(207,79,156,0.2)", borderWidth: 0.8,
      pointRadius: 0, spanGaps: true,
    };
    const bFaint = {
      data: plain(b), yAxisID: bAxis, borderColor: faintB, borderWidth: 0.8,
      pointRadius: 0, spanGaps: true,
    };
    const datasets = isY ? [mMain, bMain, mFaint, bFaint] : [bMain, mMain, bFaint, mFaint];

    const scales: any = {
      x: {
        type: "linear",
        position: "bottom",
        min: 1950,
        max: 2020,
        afterBuildTicks: (s: any) => {
          const t = [];
          for (let v = 1950; v <= 2020; v += 10) t.push({ value: v });
          s.ticks = t;
        },
        afterFit: (s: any) => {
          s.height = xh;
        },
        ticks: {
          autoSkip: false,
          maxRotation: 0,
          padding: 11,
          color: "#333",
          font: { family: FONT, size: 20 },
          callback: (v: number) => (showX ? String(v) : ""),
        },
        grid: { display: false, drawTicks: false },
        border: { display: true, color: "#111", width: 2 },
      },
      y: yAxis(isY ? -200 : p.xRange[0], isY ? 200 : p.xRange[1], "left"),
    };
    if (isY) scales.y2 = yAxis(p.y2[0], p.y2[1], "right");

    const chart = new Chart(ref.current, {
      type: "line",
      data: { datasets } as any,
      options: {
        animation: false,
        responsive: false,
        maintainAspectRatio: false,
        events: [],
        parsing: false as any,
        normalized: true,
        layout: { padding: { top: PADT, left: 0, right: isY ? 0 : SIDE, bottom: 0 } },
        plugins: { legend: { display: false }, tooltip: { enabled: false }, title: { display: false } },
        elements: { line: { tension: 0 } },
        scales,
      } as any,
      plugins: [bandsPlugin as any],
    });
    return () => chart.destroy();
  }, []);

  return (
    <canvas
      ref={ref}
      width={W}
      height={H}
      style={{ position: "absolute", left: p.col.x0 - SIDE, top: top - PADT, width: W, height: H }}
    />
  );
}

export default function App() {
  return (
    <div
      style={{
        position: "absolute", left: 0, top: 0, width: 1112, height: 1472,
        background: "#fff", fontFamily: FONT, overflow: "hidden",
      }}
    >
      {PANELS.map((p) => (
        <React.Fragment key={p.letter}>
          <div
            style={{
              position: "absolute", left: p.tx, top: p.ty - 20, height: 40, lineHeight: "40px",
              transform: "translateX(-50%)",
              fontSize: 32, color: "#111", whiteSpace: "nowrap",
            }}
          >
            {p.letter + " "}<i>{p.species}</i>
          </div>
          <SubChart p={p} which="x" />
          <SubChart p={p} which="y" />
        </React.Fragment>
      ))}
      {[["Δ(COGx)", 100], ["Δ(COGy)", 229]].map(([t, y]) => (
        <div
          key={t as string}
          style={{
            position: "absolute", left: 22, top: y as number, transform: "translate(-50%,-50%) rotate(-90deg)",
            fontSize: 16, color: "#555", whiteSpace: "nowrap",
          }}
        >
          {t}
        </div>
      ))}
      {[298, 835].map((x) => (
        <div
          key={x}
          style={{
            position: "absolute", left: x, top: 1463, transform: "translate(-50%,-50%)",
            fontSize: 17, color: "#333",
          }}
        >
          Year
        </div>
      ))}
      {[["Full CalCOFI", MAG, 173], ["SC only", BLUE, 193]].map(([t, c, y]) => (
        <div key={t as string} style={{ position: "absolute", left: 692, top: (y as number) - 10, height: 20, display: "flex", alignItems: "center" }}>
          <div style={{ width: 24, height: 4, background: c as string, marginRight: 6 }} />
          <span style={{ fontSize: 17, color: "#333", lineHeight: "20px" }}>{t}</span>
        </div>
      ))}
    </div>
  );
}
